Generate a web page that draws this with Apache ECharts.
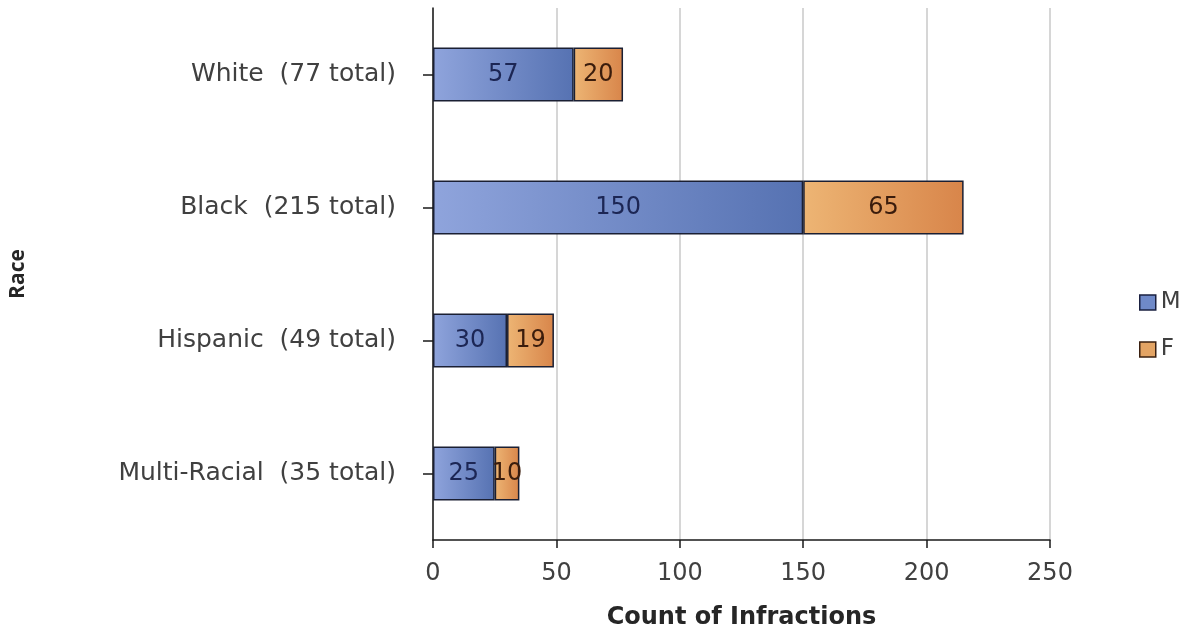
<!DOCTYPE html>
<html>
<head>
<meta charset="utf-8">
<script src="https://cdn.jsdelivr.net/npm/echarts@6/dist/echarts.min.js"></script>
<style>
  html, body { margin: 0; padding: 0; background: #fff; }
  #chart { width: 1197px; height: 635px; }
</style>
</head>
<body>
<div id="chart"></div>
<script>
// Infractions by race, split by gender
const categories = ['White  (77 total)', 'Black  (215 total)', 'Hispanic  (49 total)', 'Multi-Racial  (35 total)'];
const maleCounts = [57, 150, 30, 25];
const femaleCounts = [20, 65, 19, 10];
const xTicks = [0, 50, 100, 150, 200, 250];

const FONT = 'DejaVu Sans';

const blueFill = new echarts.graphic.LinearGradient(0, 0, 1, 0, [
  { offset: 0, color: '#8fa4dc' },
  { offset: 1, color: '#5672b2' }
]);
const orangeFill = new echarts.graphic.LinearGradient(0, 0, 1, 0, [
  { offset: 0, color: '#edb574' },
  { offset: 1, color: '#d8854a' }
]);

const chart = echarts.init(document.getElementById('chart'));
chart.setOption({
  animation: false,
  backgroundColor: '#ffffff',
  textStyle: { fontFamily: FONT },
  grid: { left: 432, right: 147, top: 8, bottom: 91, containLabel: false },
  legend: {
    orient: 'vertical',
    left: 1134,
    top: 286,
    itemWidth: 16,
    itemHeight: 15,
    itemGap: 24,
    icon: 'rect',
    textStyle: { fontFamily: FONT, fontSize: 23, color: '#404040' },
    data: [
      { name: 'M', itemStyle: { color: '#6f89c8', borderColor: '#1a2040', borderWidth: 1.5 } },
      { name: 'F', itemStyle: { color: '#e3a464', borderColor: '#3a2010', borderWidth: 1.5 } }
    ]
  },
  xAxis: {
    type: 'value',
    min: xTicks[0],
    max: xTicks[xTicks.length - 1],
    interval: 50,
    name: 'Count of Infractions',
    nameLocation: 'middle',
    nameGap: 66,
    nameTextStyle: { fontFamily: FONT, fontSize: 24, fontWeight: 'bold', color: '#262626' },
    axisLine: { show: true, lineStyle: { color: '#1a1a1a', width: 1.5 } },
    axisTick: { show: true, length: 8, inside: false, lineStyle: { color: '#1a1a1a', width: 1.5 } },
    axisLabel: { fontFamily: FONT, fontSize: 24, color: '#404040', margin: 22 },
    splitLine: { show: true, lineStyle: { color: '#c8c8c8', width: 1.5 } }
  },
  yAxis: {
    type: 'category',
    data: categories,
    inverse: true,
    name: 'Race',
    nameLocation: 'middle',
    nameGap: 404,
    nameRotate: 90,
    nameTextStyle: { fontFamily: 'Open Sans', fontSize: 21, fontWeight: 'bold', color: '#262626' },
    axisLine: { show: true, lineStyle: { color: '#1a1a1a', width: 1.5 } },
    axisTick: { show: true, alignWithLabel: true, length: 10, lineStyle: { color: '#1a1a1a', width: 1.5 } },
    axisLabel: { fontFamily: FONT, fontSize: 25, color: '#404040', margin: 37 },
    splitLine: { show: false }
  },
  series: [
    {
      name: 'M',
      type: 'bar',
      stack: 'total',
      data: maleCounts,
      barWidth: 54,
      itemStyle: { color: blueFill, borderColor: '#1a1f33', borderWidth: 1.5 },
      label: { show: true, position: 'inside', fontFamily: FONT, fontSize: 24, color: '#1c2654' }
    },
    {
      name: 'F',
      type: 'bar',
      stack: 'total',
      data: femaleCounts,
      barWidth: 54,
      itemStyle: { color: orangeFill, borderColor: '#1a1f33', borderWidth: 1.5 },
      label: { show: true, position: 'inside', fontFamily: FONT, fontSize: 24, color: '#3a1c0c' }
    }
  ]
});
</script>
</body>
</html>
